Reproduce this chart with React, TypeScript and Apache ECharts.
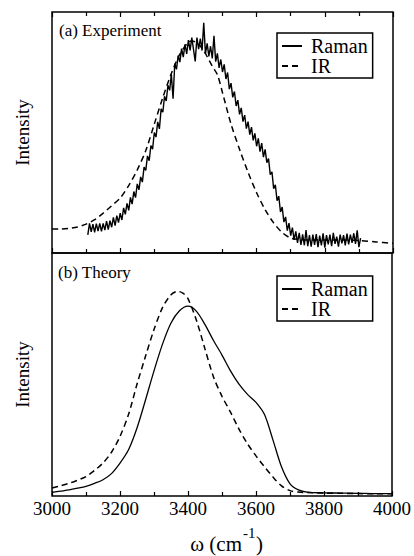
import React, { useEffect, useRef } from "react";
import * as echarts from "echarts";

// ---- Data -------------------------------------------------------------
// (a) Experiment — Raman (noisy measured spectrum), sampled on a 5 cm-1 grid
const ramanExpStart = 3105;
const ramanExpStep = 5;
const ramanExp = [
  75, 123, 88, 120, 86, 122, 91, 123, 90, 123,
  95, 132, 97, 134, 107, 148, 114, 155, 126, 165,
  137, 187, 160, 206, 177, 231, 203, 255, 230, 287,
  262, 316, 294, 356, 343, 403, 383, 446, 431, 500,
  481, 544, 515, 598, 584, 650, 631, 696, 675, 741,
  640, 786, 762, 819, 792, 848, 813, 866, 826, 883,
  841, 894, 844, 795, 894, 846, 890, 840, 955, 827,
  870, 816, 858, 807, 901, 794, 828, 768, 803, 751,
  783, 722, 749, 680, 705, 646, 670, 610, 634, 575,
  602, 545, 572, 516, 545, 491, 522, 467, 496, 443,
  476, 421, 456, 398, 430, 375, 392, 325, 337, 267,
  283, 217, 236, 170, 191, 128, 150, 93, 124, 72,
  105, 54, 90, 42, 84, 34, 77, 32, 95, 28,
  74, 26, 76, 34, 78, 24, 72, 32, 82, 22,
  74, 36, 76, 28, 84, 38, 68, 26, 76, 40,
  74, 32, 80, 36, 76, 42, 82, 38, 94, 24,
  62,
];

// (a) Experiment — IR
const irExpX = [
  3000, 3025, 3050, 3075, 3100, 3125, 3150, 3175, 3200, 3225, 3250, 3275,
  3300, 3325, 3350, 3375, 3400, 3410, 3425, 3440, 3455, 3470, 3485, 3500,
  3525, 3550, 3575, 3600, 3625, 3650, 3675, 3700, 3725, 3750, 3800, 3850,
  3900, 3950, 4000,
];
const irExp = [
  100, 100, 102, 108, 120, 138, 165, 196, 228, 280, 345, 425,
  535, 645, 745, 825, 875, 880, 872, 850, 815, 775, 740, 665,
  535, 430, 335, 250, 180, 125, 85, 62, 56, 54, 54, 54,
  52, 46, 40,
];

// (b) Theory — Raman
const ramanTheoryX = [
  3000, 3025, 3050, 3075, 3100, 3125, 3150, 3175, 3200, 3225, 3250, 3275,
  3300, 3325, 3350, 3375, 3400, 3425, 3450, 3475, 3500, 3525, 3550, 3575,
  3600, 3625, 3650, 3675, 3700, 3725, 3750, 3800, 3850, 3900, 3950, 4000,
];
const ramanTheory = [
  15, 20, 25, 32, 40, 52, 67, 92, 135, 190, 280, 395,
  515, 625, 712, 762, 781, 760, 705, 640, 580, 515, 460, 418,
  385, 335, 230, 120, 50, 25, 16, 13, 12, 11, 10, 10,
];

// (b) Theory — IR
const irTheoryX = [
  3000, 3025, 3050, 3075, 3100, 3125, 3150, 3175, 3200, 3225, 3250, 3275,
  3300, 3325, 3350, 3370, 3385, 3400, 3425, 3450, 3475, 3500, 3525, 3550,
  3575, 3600, 3625, 3650, 3675, 3700, 3725, 3750, 3800, 3850, 3900, 3950, 4000,
];
const irTheory = [
  33, 42, 52, 65, 80, 105, 136, 180, 245, 335, 460, 575,
  685, 775, 828, 842, 835, 812, 722, 605, 490, 410, 345, 275,
  215, 165, 120, 78, 42, 22, 16, 14, 12, 11, 10, 9, 9,
];

const seriesNames = ["Raman", "IR"];
const panelLabels = ["(a) Experiment", "(b) Theory"];
const yAxisTitle = "Intensity";
const xAxisTitleMain = "ω (cm";
const xAxisTitleSup = "-1";
const xAxisTitleEnd = ")";

// ---- Chart ------------------------------------------------------------
const FONT = "Liberation Serif";
const BLACK = "#000";

const pairs = (xs: number[], ys: number[]) => ys.map((y, i) => [xs[i], y]);

export default function App() {
  const ref = useRef<HTMLDivElement>(null);

  useEffect(() => {
    if (!ref.current) return;
    const chart = echarts.init(ref.current, undefined, { renderer: "svg" });

    const tickStyle = { color: BLACK, width: 1.2 };
    const baseX = (gridIndex: number, position: string, labels: boolean) => ({
      type: "value",
      gridIndex,
      position,
      min: 3000,
      max: 4000,
      interval: 200,
      axisLine: { show: false },
      axisTick: { show: true, inside: true, length: 5, lineStyle: tickStyle },
      minorTick: { show: true, splitNumber: 2, length: 4, lineStyle: tickStyle },
      splitLine: { show: false },
      minorSplitLine: { show: false },
      axisLabel: {
        show: labels,
        fontSize: 19,
        fontFamily: FONT,
        color: BLACK,
        margin: 3,
        formatter: (v: number) => String(v),
      },
    });
    const baseY = (gridIndex: number) => ({
      type: "value",
      gridIndex,
      min: 0,
      max: 1000,
      axisLine: { show: false },
      axisTick: { show: false },
      axisLabel: { show: false },
      splitLine: { show: false },
      name: yAxisTitle,
      nameLocation: "middle",
      nameGap: 20,
      nameTextStyle: { fontSize: 19, fontFamily: FONT, color: BLACK },
    });

    const legendBase = {
      data: seriesNames,
      left: 277,
      orient: "vertical",
      itemGap: 0,
      itemWidth: 20,
      itemHeight: 14,
      borderColor: BLACK,
      borderWidth: 1.5,
      padding: [3, 5, 2, 4],
      selectedMode: false,
      itemStyle: { opacity: 0, color: "transparent", borderWidth: 0 },
      textStyle: {
        fontSize: 20,
        fontFamily: FONT,
        color: BLACK,
        lineHeight: 19,
        padding: [0, 0, 0, 4],
      },
    };

    const solid = { color: BLACK, width: 1.3, type: "solid" };
    const dashed = { color: BLACK, width: 1.5, type: [6, 4] };

    chart.setOption({
      animation: false,
      backgroundColor: "#fff",
      grid: [
        { left: 52, top: 12, width: 341, height: 241, show: true, borderColor: BLACK, borderWidth: 1.5, backgroundColor: "transparent" },
        { left: 52, top: 253, width: 341, height: 243, show: true, borderColor: BLACK, borderWidth: 1.5, backgroundColor: "transparent" },
      ],
      xAxis: [baseX(0, "bottom", false), baseX(0, "top", false), baseX(1, "bottom", true)],
      yAxis: [baseY(0), baseY(1)],
      legend: [
        { ...legendBase, top: 33 },
        { ...legendBase, top: 276 },
      ],
      series: [
        {
          type: "line",
          name: seriesNames[0],
          xAxisIndex: 0,
          yAxisIndex: 0,
          data: ramanExp.map((v, i) => [ramanExpStart + i * ramanExpStep, v]),
          symbol: "none",
          lineStyle: { ...solid, width: 1.4 },
          itemStyle: { color: BLACK },
        },
        {
          type: "line",
          name: seriesNames[1],
          xAxisIndex: 0,
          yAxisIndex: 0,
          data: pairs(irExpX, irExp),
          smooth: 0.3,
          symbol: "none",
          lineStyle: dashed,
          itemStyle: { color: BLACK },
        },
        {
          type: "line",
          name: seriesNames[0],
          xAxisIndex: 2,
          yAxisIndex: 1,
          data: pairs(ramanTheoryX, ramanTheory),
          smooth: 0.3,
          symbol: "none",
          lineStyle: solid,
          itemStyle: { color: BLACK },
        },
        {
          type: "line",
          name: seriesNames[1],
          xAxisIndex: 2,
          yAxisIndex: 1,
          data: pairs(irTheoryX, irTheory),
          smooth: 0.3,
          symbol: "none",
          lineStyle: dashed,
          itemStyle: { color: BLACK },
        },
      ],
      graphic: [
        {
          type: "text",
          x: 59,
          y: 30,
          style: { text: panelLabels[0], fontSize: 17, fontFamily: FONT, fill: BLACK, align: "left", verticalAlign: "middle" },
        },
        {
          type: "text",
          x: 58,
          y: 272,
          style: { text: panelLabels[1], fontSize: 17, fontFamily: FONT, fill: BLACK, align: "left", verticalAlign: "middle" },
        },
        {
          type: "text",
          x: 242,
          y: 544,
          style: { text: xAxisTitleMain, fontSize: 21, fontFamily: FONT, fill: BLACK, align: "right", verticalAlign: "middle" },
        },
        {
          type: "text",
          x: 243,
          y: 533,
          style: { text: xAxisTitleSup, fontSize: 15, fontFamily: FONT, fill: BLACK, align: "left", verticalAlign: "middle" },
        },
        {
          type: "text",
          x: 256,
          y: 544,
          style: { text: xAxisTitleEnd, fontSize: 21, fontFamily: FONT, fill: BLACK, align: "left", verticalAlign: "middle" },
        },
      ],
    });

    return () => chart.dispose();
  }, []);

  return (
    <div
      ref={ref}
      style={{ position: "fixed", left: 0, top: 0, width: 414, height: 556, background: "#fff" }}
    />
  );
}
